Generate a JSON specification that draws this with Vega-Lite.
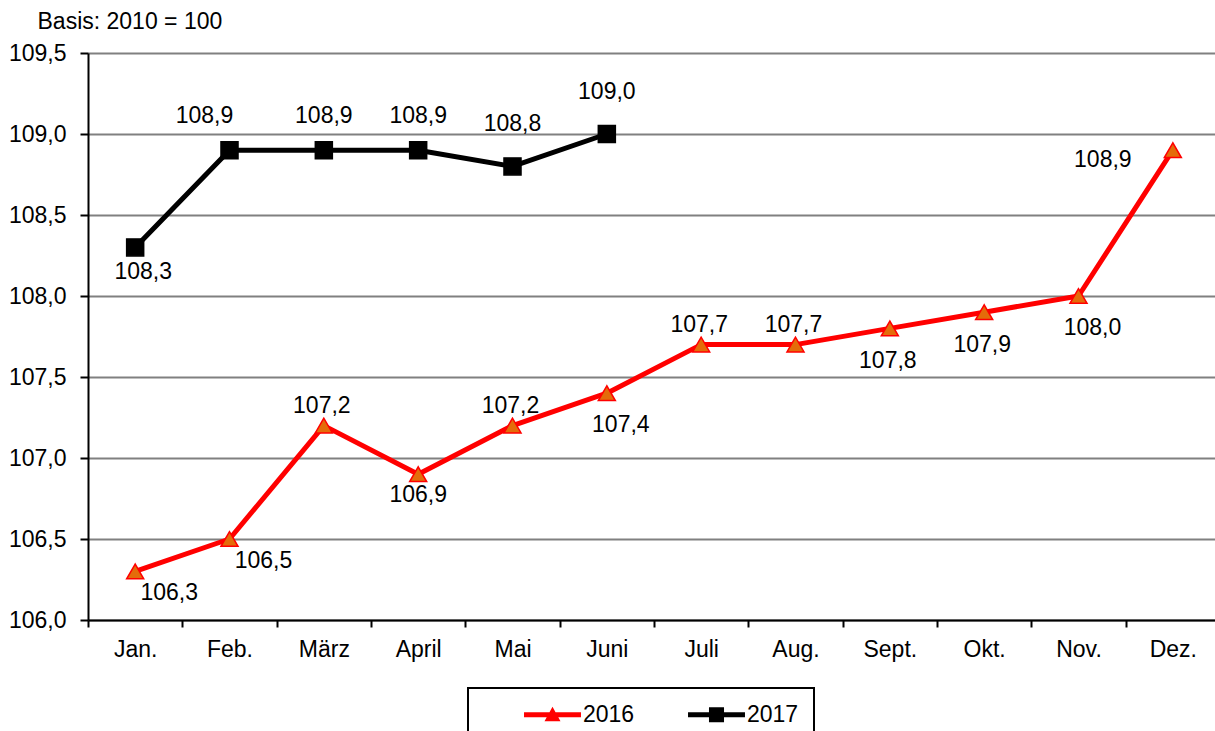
{
  "$schema": "https://vega.github.io/schema/vega-lite/v6.json",
  "width": 1132,
  "height": 567,
  "autosize": {"type": "none"},
  "padding": {"left": 88, "top": 53, "right": 0, "bottom": 111},
  "background": "white",
  "config": {
    "locale": {"number": {"decimal": ",", "thousands": ".", "grouping": [3], "currency": ["", " €"]}},
    "view": {"stroke": null},
    "font": "Liberation Sans",
    "legend": {"strokeWidth": 2}
  },
  "data": {
    "values": [
      {"Jahr": "2016", "Monat": "Jan.", "Wert": 106.3},
      {"Jahr": "2016", "Monat": "Feb.", "Wert": 106.5},
      {"Jahr": "2016", "Monat": "März", "Wert": 107.2},
      {"Jahr": "2016", "Monat": "April", "Wert": 106.9},
      {"Jahr": "2016", "Monat": "Mai", "Wert": 107.2},
      {"Jahr": "2016", "Monat": "Juni", "Wert": 107.4},
      {"Jahr": "2016", "Monat": "Juli", "Wert": 107.7},
      {"Jahr": "2016", "Monat": "Aug.", "Wert": 107.7},
      {"Jahr": "2016", "Monat": "Sept.", "Wert": 107.8},
      {"Jahr": "2016", "Monat": "Okt.", "Wert": 107.9},
      {"Jahr": "2016", "Monat": "Nov.", "Wert": 108.0},
      {"Jahr": "2016", "Monat": "Dez.", "Wert": 108.9},
      {"Jahr": "2017", "Monat": "Jan.", "Wert": 108.3},
      {"Jahr": "2017", "Monat": "Feb.", "Wert": 108.9},
      {"Jahr": "2017", "Monat": "März", "Wert": 108.9},
      {"Jahr": "2017", "Monat": "April", "Wert": 108.9},
      {"Jahr": "2017", "Monat": "Mai", "Wert": 108.8},
      {"Jahr": "2017", "Monat": "Juni", "Wert": 109.0}
    ]
  },
  "encoding": {
    "x": {
      "field": "Monat", "type": "nominal",
      "sort": ["Jan.", "Feb.", "März", "April", "Mai", "Juni", "Juli", "Aug.", "Sept.", "Okt.", "Nov.", "Dez."],
      "scale": {"type": "band", "paddingInner": 0, "paddingOuter": 0},
      "axis": {
        "title": null, "labelAngle": 0, "tickBand": "extent", "grid": false,
        "domainColor": "black", "domainWidth": 2, "tickColor": "black", "tickWidth": 2, "tickSize": 7,
        "labelFontSize": 23, "labelColor": "black", "labelPadding": 11, "labelFont": "Liberation Sans"
      }
    },
    "y": {
      "field": "Wert", "type": "quantitative",
      "scale": {"domain": [106, 109.5], "nice": false, "zero": false},
      "axis": {
        "values": [106, 106.5, 107, 107.5, 108, 108.5, 109, 109.5],
        "format": ".1f",
        "title": "Basis: 2010 = 100", "titleAngle": 0, "titleAlign": "left", "titleBaseline": "alphabetic",
        "titleX": -51, "titleY": -25, "titleFontSize": 23, "titleFontWeight": "normal", "titleColor": "black",
        "titleFont": "Liberation Sans",
        "grid": true, "gridColor": "#808080", "gridWidth": 2,
        "domainColor": "black", "domainWidth": 2, "tickColor": "black", "tickWidth": 2, "tickSize": 8,
        "labelFontSize": 23, "labelColor": "black", "labelPadding": 14, "labelFont": "Liberation Sans"
      }
    }
  },
  "layer": [
    {
      "mark": {"type": "line", "strokeWidth": 5, "strokeJoin": "round"},
      "encoding": {
        "stroke": {"field": "Jahr", "type": "nominal", "scale": {"domain": ["2016", "2017"], "range": ["#FF0000", "#000000"]}, "legend": null}
      }
    },
    {
      "mark": {"type": "point", "filled": true, "size": 290, "strokeWidth": 1.5, "opacity": 1},
      "encoding": {
        "shape": {"field": "Jahr", "type": "nominal", "scale": {"domain": ["2016", "2017"], "range": ["triangle-up", "square"]}, "legend": null},
        "fill": {"field": "Jahr", "type": "nominal", "scale": {"domain": ["2016", "2017"], "range": ["#E46C0A", "#000000"]}, "legend": null},
        "stroke": {"field": "Jahr", "type": "nominal", "legend": null}
      }
    },
    {
      "transform": [{"filter": "datum.Jahr == '2016' && indexof(['Jan.','Feb.'], datum.Monat) >= 0"}],
      "mark": {"type": "text", "fontSize": 23, "font": "Liberation Sans", "color": "black", "baseline": "middle", "align": "center", "dx": 34, "dy": 22},
      "encoding": {"text": {"field": "Wert", "type": "quantitative", "format": ".1f"}}
    },
    {
      "transform": [{"filter": "datum.Jahr == '2016' && indexof(['März','Mai','Juli','Aug.'], datum.Monat) >= 0"}],
      "mark": {"type": "text", "fontSize": 23, "font": "Liberation Sans", "color": "black", "baseline": "middle", "align": "center", "dx": -2, "dy": -20},
      "encoding": {"text": {"field": "Wert", "type": "quantitative", "format": ".1f"}}
    },
    {
      "transform": [{"filter": "datum.Jahr == '2016' && datum.Monat == 'April'"}],
      "mark": {"type": "text", "fontSize": 23, "font": "Liberation Sans", "color": "black", "baseline": "middle", "align": "center", "dy": 21},
      "encoding": {"text": {"field": "Wert", "type": "quantitative", "format": ".1f"}}
    },
    {
      "transform": [{"filter": "datum.Jahr == '2016' && indexof(['Sept.','Okt.'], datum.Monat) >= 0"}],
      "mark": {"type": "text", "fontSize": 23, "font": "Liberation Sans", "color": "black", "baseline": "middle", "align": "center", "dx": -2, "dy": 33},
      "encoding": {"text": {"field": "Wert", "type": "quantitative", "format": ".1f"}}
    },
    {
      "transform": [{"filter": "datum.Jahr == '2016' && indexof(['Juni','Nov.'], datum.Monat) >= 0"}],
      "mark": {"type": "text", "fontSize": 23, "font": "Liberation Sans", "color": "black", "baseline": "middle", "align": "center", "dx": 14, "dy": 32},
      "encoding": {"text": {"field": "Wert", "type": "quantitative", "format": ".1f"}}
    },
    {
      "transform": [{"filter": "datum.Jahr == '2016' && datum.Monat == 'Dez.'"}],
      "mark": {"type": "text", "fontSize": 23, "font": "Liberation Sans", "color": "black", "baseline": "middle", "align": "center", "dx": -70, "dy": 10},
      "encoding": {"text": {"field": "Wert", "type": "quantitative", "format": ".1f"}}
    },
    {
      "transform": [{"filter": "datum.Jahr == '2017' && datum.Monat == 'Jan.'"}],
      "mark": {"type": "text", "fontSize": 23, "font": "Liberation Sans", "color": "black", "baseline": "middle", "align": "center", "dx": 8, "dy": 25},
      "encoding": {"text": {"field": "Wert", "type": "quantitative", "format": ".1f"}}
    },
    {
      "transform": [{"filter": "datum.Jahr == '2017' && datum.Monat == 'Feb.'"}],
      "mark": {"type": "text", "fontSize": 23, "font": "Liberation Sans", "color": "black", "baseline": "middle", "align": "center", "dx": -25, "dy": -34},
      "encoding": {"text": {"field": "Wert", "type": "quantitative", "format": ".1f"}}
    },
    {
      "transform": [{"filter": "datum.Jahr == '2017' && indexof(['März','April'], datum.Monat) >= 0"}],
      "mark": {"type": "text", "fontSize": 23, "font": "Liberation Sans", "color": "black", "baseline": "middle", "align": "center", "dy": -34},
      "encoding": {"text": {"field": "Wert", "type": "quantitative", "format": ".1f"}}
    },
    {
      "transform": [{"filter": "datum.Jahr == '2017' && indexof(['Mai','Juni'], datum.Monat) >= 0"}],
      "mark": {"type": "text", "fontSize": 23, "font": "Liberation Sans", "color": "black", "baseline": "middle", "align": "center", "dy": -42},
      "encoding": {"text": {"field": "Wert", "type": "quantitative", "format": ".1f"}}
    },
    {
      "transform": [{"filter": "false"}],
      "mark": {"type": "point", "filled": true},
      "encoding": {
        "fill": {
          "field": "Jahr", "type": "nominal",
          "scale": {"domain": ["2016", "2017"], "range": ["#FF0000", "#000000"]},
          "legend": {"title": null, "orient": "none", "legendX": 380, "legendY": 635, "direction": "horizontal", "symbolSize": 256, "symbolOffset": 58, "labelOffset": 19, "padding": 15, "strokeColor": "black", "labelFontSize": 23, "labelFont": "Liberation Sans", "labelColor": "black", "symbolStrokeWidth": 0, "symbolOpacity": 1, "columnPadding": 12, "labelExpr": "datum.label == '2017' ? datum.label + '\u00a0\u00a0\u00a0\u00a0\u00a0' : datum.label"}
        },
        "shape": {
          "field": "Jahr", "type": "nominal",
          "scale": {"domain": ["2016", "2017"], "range": ["M-3.56,-0.31H3.56V0.31H-3.56Z M0,-1L1,0.8H-1Z", "M-3.56,-0.31H3.56V0.31H-3.56Z M-0.94,-0.94H0.94V0.94H-0.94Z"]},
          "legend": {"title": null, "orient": "none", "legendX": 380, "legendY": 635, "direction": "horizontal", "symbolSize": 256, "symbolOffset": 58, "labelOffset": 19, "padding": 15, "strokeColor": "black", "labelFontSize": 23, "labelFont": "Liberation Sans", "labelColor": "black", "symbolStrokeWidth": 0, "symbolOpacity": 1, "columnPadding": 12, "labelExpr": "datum.label == '2017' ? datum.label + '\u00a0\u00a0\u00a0\u00a0\u00a0' : datum.label"}
        }
      }
    }
  ],
  "resolve": {"scale": {"shape": "independent", "fill": "independent"}}
}
